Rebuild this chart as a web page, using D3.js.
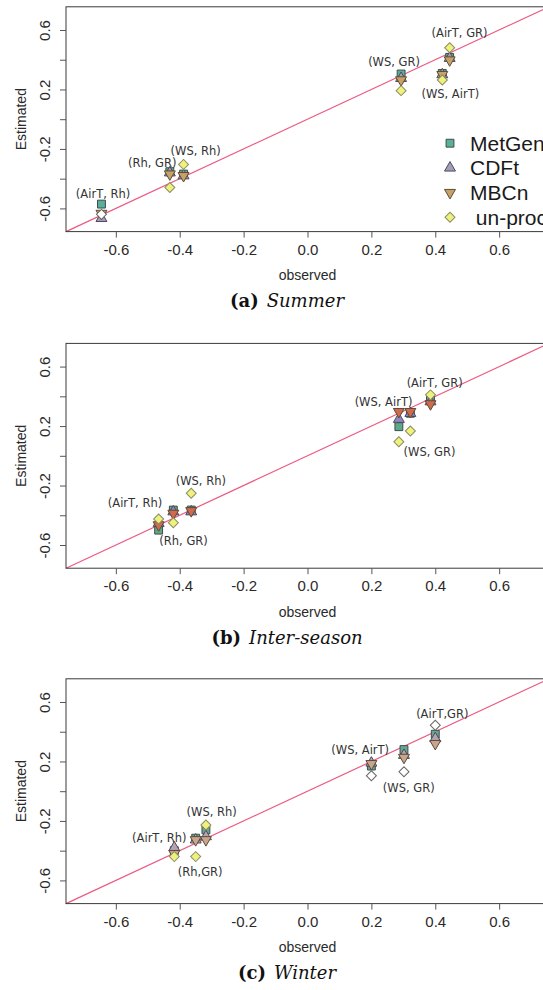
<!DOCTYPE html>
<html><head><meta charset="utf-8">
<script src="https://cdn.jsdelivr.net/npm/d3@7"></script>
<style>body{margin:0;background:#fff}svg{display:block}</style>
</head><body>
<svg id="c" width="543" height="990"></svg>
<script>
// ---------- data ----------
const methods = ["MetGen", "CDFt", "MBCn", "un-proc"];
const legendLabels = ["MetGen", "CDFt", "MBCn", " un-proc"];
const seasonNames = ["Summer", "Inter-season", "Winter"];
const panelLetters = ["(a)", "(b)", "(c)"];
const xTicks = [-0.6, -0.4, -0.2, 0, 0.2, 0.4, 0.6];
const yTicks = [-0.6, -0.4, -0.2, 0, 0.2, 0.4, 0.6];
const yTickLabels = [-0.6, -0.2, 0.2, 0.6];

// pair order: (AirT,Rh), (Rh,GR), (WS,Rh), (WS,GR), (WS,AirT), (AirT,GR)
const labelsSummer = ["(AirT, Rh)", "(Rh, GR)", "(WS, Rh)", "(WS, GR)", "(WS, AirT)", "(AirT, GR)"];
const labelsInter  = ["(AirT, Rh)", "(Rh, GR)", "(WS, Rh)", "(WS, GR)", "(WS, AirT)", "(AirT, GR)"];
const labelsWinter = ["(AirT, Rh)", "(Rh,GR)", "(WS, Rh)", "(WS, GR)", "(WS, AirT)", "(AirT,GR)"];

const obsSummer    = [-0.645, -0.431, -0.388, 0.293, 0.422, 0.445];
const metgenSummer = [-0.571, -0.353, -0.369, 0.304, 0.308, 0.416];
const cdftSummer   = [-0.667, -0.360, -0.380, 0.275, 0.300, 0.410];
const mbcnSummer   = [-0.634, -0.369, -0.380, 0.264, 0.300, 0.398];
const unprocSummer = [-0.640, -0.459, -0.304, 0.192, 0.264, 0.481];
const labelXSummer = [-0.640, -0.486, -0.350, 0.271, 0.447, 0.476];
const labelYSummer = [-0.506, -0.297, -0.212, 0.382, 0.167, 0.580];

const obsInter    = [-0.466, -0.420, -0.364, 0.322, 0.286, 0.385];
const metgenInter = [-0.500, -0.365, -0.365, 0.286, 0.196, 0.376];
const cdftInter   = [-0.454, -0.376, -0.376, 0.286, 0.246, 0.364];
const mbcnInter   = [-0.465, -0.387, -0.370, 0.297, 0.297, 0.349];
const unprocInter = [-0.425, -0.450, -0.252, 0.167, 0.095, 0.410];
const labelXInter = [-0.540, -0.388, -0.334, 0.382, 0.238, 0.398];
const labelYInter = [-0.320, -0.573, -0.167, 0.028, 0.365, 0.493];

const obsWinter    = [-0.417, -0.350, -0.318, 0.302, 0.200, 0.400];
const metgenWinter = [-0.400, -0.316, -0.260, 0.280, 0.169, 0.383];
const cdftWinter   = [-0.380, -0.327, -0.305, 0.242, 0.190, 0.354];
const mbcnWinter   = [-0.420, -0.327, -0.327, 0.227, 0.185, 0.320];
const unprocWinter = [-0.440, -0.440, -0.227, 0.131, 0.104, 0.444];
const labelXWinter = [-0.464, -0.336, -0.300, 0.317, 0.165, 0.422];
const labelYWinter = [-0.316, -0.540, -0.137, 0.023, 0.280, 0.522];

// ---------- styles ----------
const panels = [
  {obs: obsSummer, series: [metgenSummer, cdftSummer, mbcnSummer, unprocSummer], labels: labelsSummer, lx: labelXSummer, ly: labelYSummer},
  {obs: obsInter, series: [metgenInter, cdftInter, mbcnInter, unprocInter], labels: labelsInter, lx: labelXInter, ly: labelYInter},
  {obs: obsWinter, series: [metgenWinter, cdftWinter, mbcnWinter, unprocWinter], labels: labelsWinter, lx: labelXWinter, ly: labelYWinter}
];
// per-panel fills (method order), echoing the tints seen in each panel
const panelFills = [
  ["#5bae98", "#a59db5", "#c6a266", "#eef27c"],
  ["#5ea88a", "#8f86c4", "#cf6a4c", "#eef27c"],
  ["#6aa592", "#b4a4b0", "#c9a58e", "#eef27c"]
];
// un-proc diamonds drawn hollow (white) in the reference
const hollowUnproc = [[0], [], [3, 4, 5]];

const zeroY = [119.2, 455.8, 791.2];
const half = 112.4;
const lim = 0.756;
const styles = [
  {type: d3.symbolSquare, size: 62, rot: 0, stroke: "#3c4f4c"},
  {type: d3.symbolTriangle, size: 52, rot: 0, stroke: "#4b4a5c"},
  {type: d3.symbolTriangle, size: 52, rot: 180, stroke: "#5c4b38"},
  {type: d3.symbolSquare, size: 50, rot: 45, stroke: "#8b8b66"}
];
const sans = "'Liberation Sans', Arial, sans-serif";

const svg = d3.select("#c");
const x = d3.scaleLinear().domain([-lim, lim]).range([66, 549]);

panels.forEach((p, i) => {
  const Z = zeroY[i];
  const y = d3.scaleLinear().domain([-lim, lim]).range([Z + half, Z - half]);
  const g = svg.append("g");

  // 1:1 line
  g.append("line")
    .attr("x1", x(-lim)).attr("y1", y(-lim))
    .attr("x2", x(lim)).attr("y2", y(lim))
    .attr("stroke", "#ec5a82").attr("stroke-width", 1.2);

  // frame
  g.append("rect")
    .attr("x", x(-lim)).attr("y", y(lim))
    .attr("width", x(lim) - x(-lim)).attr("height", y(-lim) - y(lim))
    .attr("fill", "none").attr("stroke", "#3a3a3a").attr("stroke-width", 1);

  // x axis
  const xa = g.append("g").attr("transform", `translate(0,${y(-lim)})`)
    .call(d3.axisBottom(x).tickValues(xTicks).tickSize(6).tickFormat(d => (Math.abs(d) < 1e-9 ? 0 : d).toFixed(1)));
  xa.select(".domain").remove();
  xa.selectAll(".tick line").attr("stroke", "#555");
  xa.selectAll(".tick text").attr("y", 12.5).attr("fill", "#2a2a2a")
    .style("font-family", sans).style("font-size", "15px");

  // y axis
  const ya = g.append("g").attr("transform", `translate(${x(-lim)},0)`)
    .call(d3.axisLeft(y).tickValues(yTicks).tickSize(6)
      .tickFormat(d => yTickLabels.some(v => Math.abs(v - d) < 1e-9) ? d.toFixed(1) : ""));
  ya.select(".domain").remove();
  ya.selectAll(".tick line").attr("stroke", "#555");
  ya.selectAll(".tick text")
    .attr("transform", "rotate(-90)")
    .attr("x", 0).attr("y", -21).attr("dy", "0.35em")
    .attr("text-anchor", "middle").attr("fill", "#2a2a2a")
    .style("font-family", sans).style("font-size", "15px");

  // axis titles
  g.append("text").attr("x", x(0)).attr("y", Z + 161).attr("text-anchor", "middle")
    .attr("fill", "#2a2a2a").style("font-family", sans).style("font-size", "14px")
    .text("observed");
  g.append("text").attr("transform", `translate(26,${Z}) rotate(-90)`).attr("text-anchor", "middle")
    .attr("fill", "#2a2a2a").style("font-family", sans).style("font-size", "14px")
    .text("Estimated");

  // caption
  const cap = g.append("text").attr("x", 287).attr("y", Z + 188).attr("text-anchor", "middle")
    .style("font-family", "'DejaVu Serif', 'Liberation Serif', serif").style("font-size", "18px").attr("fill", "#111");
  cap.append("tspan").attr("font-weight", "bold").text(panelLetters[i]);
  cap.append("tspan").attr("font-style", "italic").attr("dx", 8).text(seasonNames[i]);

  // points
  p.series.forEach((vals, k) => {
    const s = styles[k];
    g.append("g").selectAll("path").data(vals).join("path")
      .attr("d", d3.symbol().type(s.type).size(s.size))
      .attr("transform", (d, j) => `translate(${x(p.obs[j])},${y(d)}) rotate(${s.rot})`)
      .attr("fill", (d, j) => (k === 3 && hollowUnproc[i].includes(j)) ? "#ffffff" : panelFills[i][k])
      .attr("stroke", (d, j) => (k === 3 && hollowUnproc[i].includes(j)) ? "#666" : s.stroke)
      .attr("stroke-width", 1);
  });

  // pair labels
  g.append("g").selectAll("text").data(p.labels).join("text")
    .attr("x", (d, j) => x(p.lx[j])).attr("y", (d, j) => y(p.ly[j]))
    .attr("dy", "0.35em").attr("text-anchor", "middle").attr("fill", "#333")
    .style("font-family", "'DejaVu Sans', sans-serif").style("font-size", "11.5px")
    .text(d => d);

  // legend only in first panel
  if (i === 0) {
    const lg = g.append("g");
    legendLabels.forEach((lab, k) => {
      const s = styles[k];
      const ry = Z + 24 + k * 24.7;
      lg.append("path").attr("d", d3.symbol().type(s.type).size(s.size))
        .attr("transform", `translate(450,${ry}) rotate(${s.rot})`)
        .attr("fill", panelFills[0][k]).attr("stroke", s.stroke).attr("stroke-width", 1);
      lg.append("text").attr("x", 470).attr("y", ry).attr("dy", "0.35em")
        .style("white-space", "pre").attr("fill", "#1a1a1a")
        .style("font-family", sans).style("font-size", "21px")
        .text(lab);
    });
  }
});
</script>
</body></html>
